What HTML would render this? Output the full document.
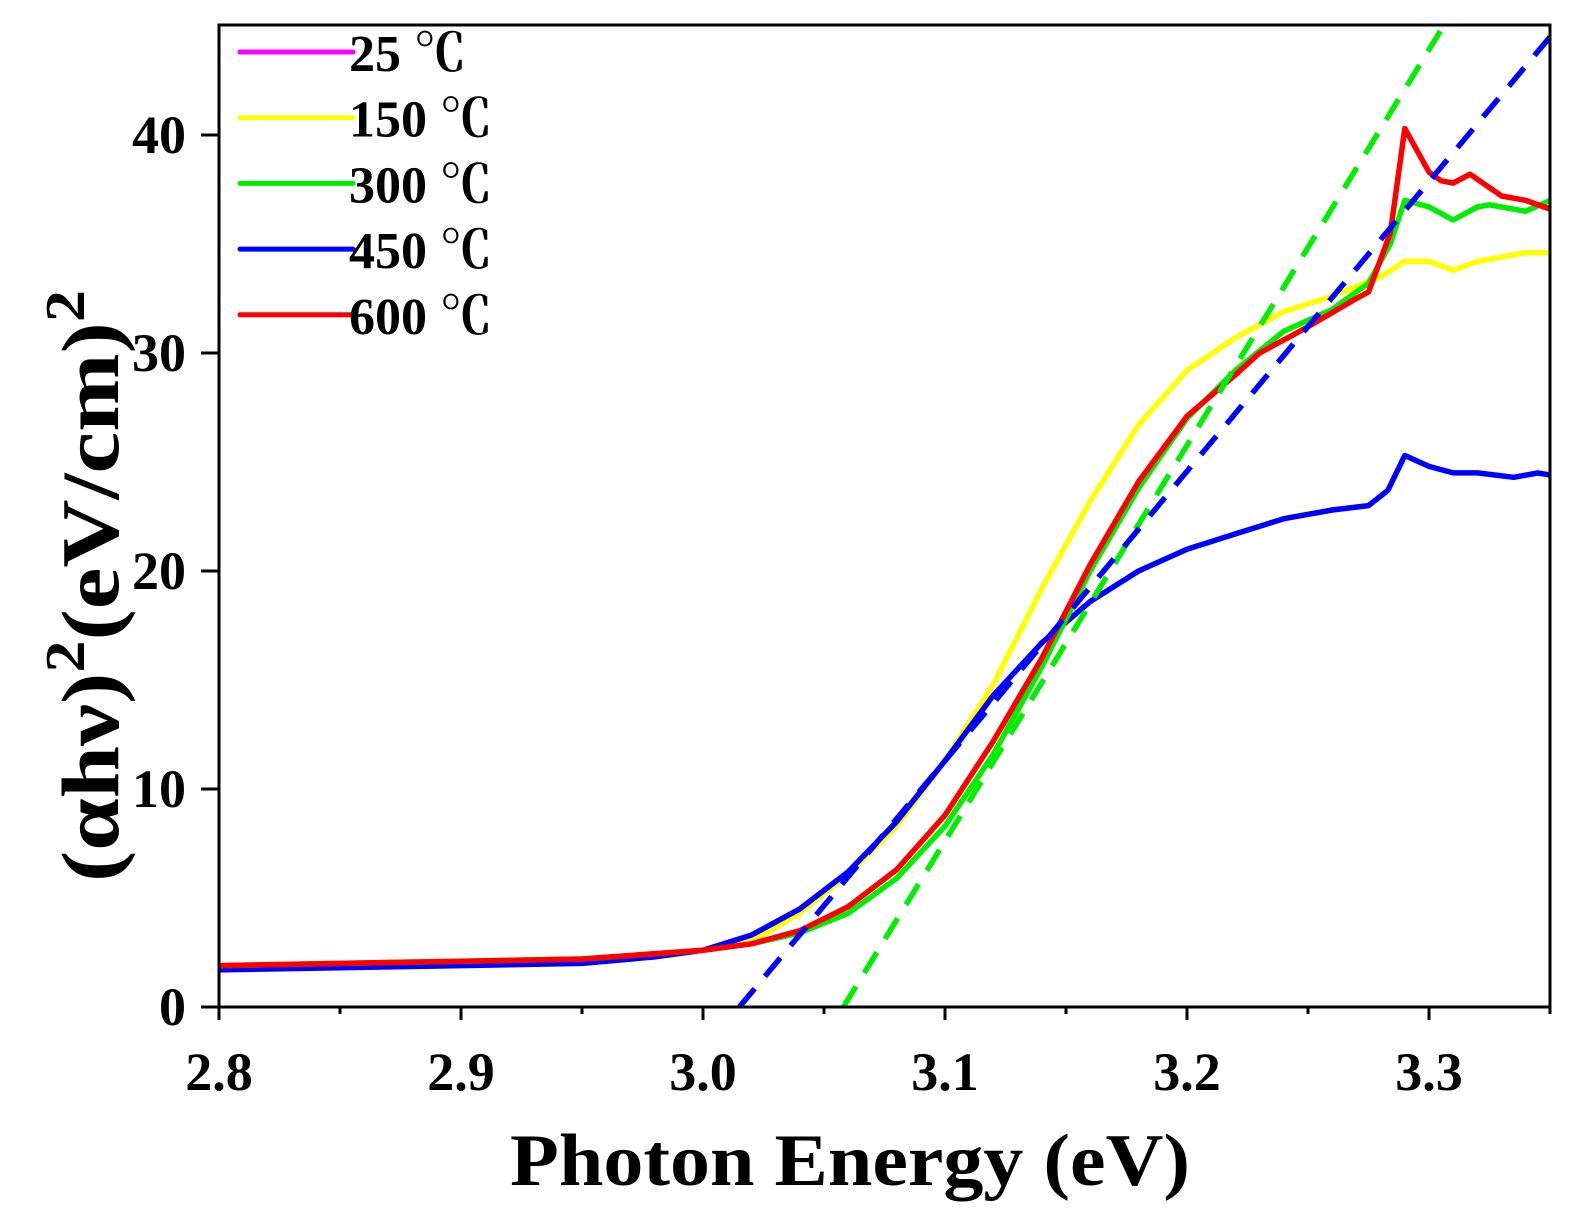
<!DOCTYPE html>
<html><head><meta charset="utf-8"><style>
body{margin:0;background:#fff}
svg text{font-family:"Liberation Serif","Noto Serif CJK SC",serif;font-weight:bold;fill:#000}
</style></head><body>
<svg id="chart" width="1579" height="1223" viewBox="0 0 1579 1223" xmlns="http://www.w3.org/2000/svg">
<rect width="1579" height="1223" fill="#fff"/>
<g id="series"></g>
<rect x="219" y="25" width="1331" height="982" fill="none" stroke="#000" stroke-width="3"/>
<g id="axes"></g>
<text x="510" y="1185" font-size="74" textLength="680" lengthAdjust="spacingAndGlyphs">Photon Energy (eV)</text>
<text transform="translate(118,882) rotate(-90)" font-size="82" textLength="592" lengthAdjust="spacingAndGlyphs">(αhν)<tspan dy="-34" font-size="56">2</tspan><tspan dy="34">(eV/cm)</tspan><tspan dy="-34" font-size="56">2</tspan></text>
<g id="legend"></g>
</svg>
<script>
const xTicks=[2.8,2.9,3.0,3.1,3.2,3.3];
const xTickLabels=["2.8","2.9","3.0","3.1","3.2","3.3"];
const yTicks=[0,10,20,30,40];
const seriesNames=["25 ℃","150 ℃","300 ℃","450 ℃","600 ℃"];
const seriesColors=["#ff00ff","#ffff00","#00ee00","#0000ff","#ff0000"];
const xYellow=[2.8,2.9,2.95,3.0,3.02,3.04,3.06,3.08,3.1,3.12,3.14,3.16,3.18,3.2,3.22,3.24,3.26,3.28,3.29,3.3,3.31,3.32,3.34,3.35];
const yYellow=[1.9,2.1,2.2,2.6,3.0,4.3,6.1,8.3,11.3,14.8,19.2,23.2,26.7,29.2,30.7,31.9,32.6,33.5,34.2,34.2,33.8,34.2,34.6,34.6];
const xGreen=[2.8,2.9,2.95,3.0,3.02,3.04,3.06,3.08,3.1,3.12,3.14,3.16,3.18,3.2,3.22,3.24,3.26,3.275,3.284,3.29,3.3,3.31,3.32,3.325,3.34,3.35];
const yGreen=[1.9,2.1,2.2,2.6,2.9,3.4,4.3,5.9,8.3,11.6,15.6,20.0,23.8,27.0,29.2,31.0,32.0,33.2,35.0,37.0,36.7,36.1,36.7,36.8,36.5,37.0];
const xBlue=[2.8,2.9,2.95,2.98,3.0,3.02,3.04,3.06,3.08,3.1,3.12,3.14,3.16,3.18,3.2,3.22,3.24,3.26,3.275,3.283,3.29,3.3,3.31,3.32,3.335,3.345,3.35];
const yBlue=[1.7,1.9,2.0,2.3,2.6,3.3,4.5,6.2,8.5,11.3,14.3,16.7,18.6,20.0,21.0,21.7,22.4,22.8,23.0,23.7,25.3,24.8,24.5,24.5,24.3,24.5,24.4];
const xRed=[2.8,2.9,2.95,3.0,3.02,3.04,3.06,3.08,3.1,3.12,3.14,3.16,3.18,3.2,3.22,3.23,3.25,3.27,3.275,3.284,3.29,3.3,3.305,3.31,3.317,3.33,3.34,3.35];
const yRed=[1.9,2.1,2.2,2.6,2.9,3.5,4.6,6.3,8.8,12.2,16.0,20.3,24.1,27.1,29.0,30.0,31.2,32.5,32.8,35.5,40.3,38.3,37.9,37.8,38.2,37.2,37.0,36.6];
const fitBlueX=[3.015,3.35], fitBlueY=[0,44.5];
const fitGreenX=[3.058,3.306], fitGreenY=[0,45];
const X=v=>219+(v-2.8)*2420, Y=v=>1007-v*21.8;
const NS="http://www.w3.org/2000/svg";
function mk(tag,attrs,parent){const e=document.createElementNS(NS,tag);for(const k in attrs)e.setAttribute(k,attrs[k]);parent.appendChild(e);return e;}
const S=document.getElementById('series');
const clip=mk('clipPath',{id:'cp'},S);mk('rect',{x:219,y:25,width:1331,height:982},clip);
const G=mk('g',{'clip-path':'url(#cp)'},S);
function line(xs,ys,color,name,dash){
 const p=mk('path',{d:xs.map((x,i)=>(i?'L':'M')+X(x).toFixed(1)+','+Y(ys[i]).toFixed(1)).join(''),fill:'none',stroke:color,'stroke-width':5.5,'stroke-linejoin':'round'},G);
 if(dash)p.setAttribute('stroke-dasharray','24,16');
 
 
}
line(xYellow,yYellow,seriesColors[1],'series-150c');
line(xBlue,yBlue,seriesColors[3],'series-450c');
line(xGreen,yGreen,seriesColors[2],'series-300c');
line(xRed,yRed,seriesColors[4],'series-600c');
line(fitGreenX,fitGreenY,seriesColors[2],'fit-line-300c',true);
line(fitBlueX,fitBlueY,seriesColors[3],'fit-line-450c',true);
const A=document.getElementById('axes');
xTicks.forEach((t,i)=>{
 const tk=mk('line',{x1:X(t),x2:X(t),y1:1007,y2:1020,stroke:'#000','stroke-width':3},A);
 
 
 const m=mk('line',{x1:X(t+0.05),x2:X(t+0.05),y1:1007,y2:1014,stroke:'#000','stroke-width':3},A);
 
 
 const l=mk('text',{x:X(t),y:1090,'font-size':54,'text-anchor':'middle'},A);l.textContent=xTickLabels[i];
 
 
});
yTicks.forEach(t=>{
 const tk=mk('line',{x1:201,x2:219,y1:Y(t),y2:Y(t),stroke:'#000','stroke-width':3},A);
 
 
 const l=mk('text',{x:186,y:Y(t)+18,'font-size':54,'text-anchor':'end'},A);l.textContent=t;
 
 
});
const L=document.getElementById('legend');
seriesNames.forEach((n,i)=>{
 const y=52+i*65.7;
 const ln=mk('line',{x1:240,x2:353,y1:y,y2:y,stroke:seriesColors[i],'stroke-width':5,'stroke-linecap':'round'},L);
 
 
 const t=mk('text',{x:349,y:y+19,'font-size':52},L);t.textContent=n;
 
 
});
</script>
</body></html>
